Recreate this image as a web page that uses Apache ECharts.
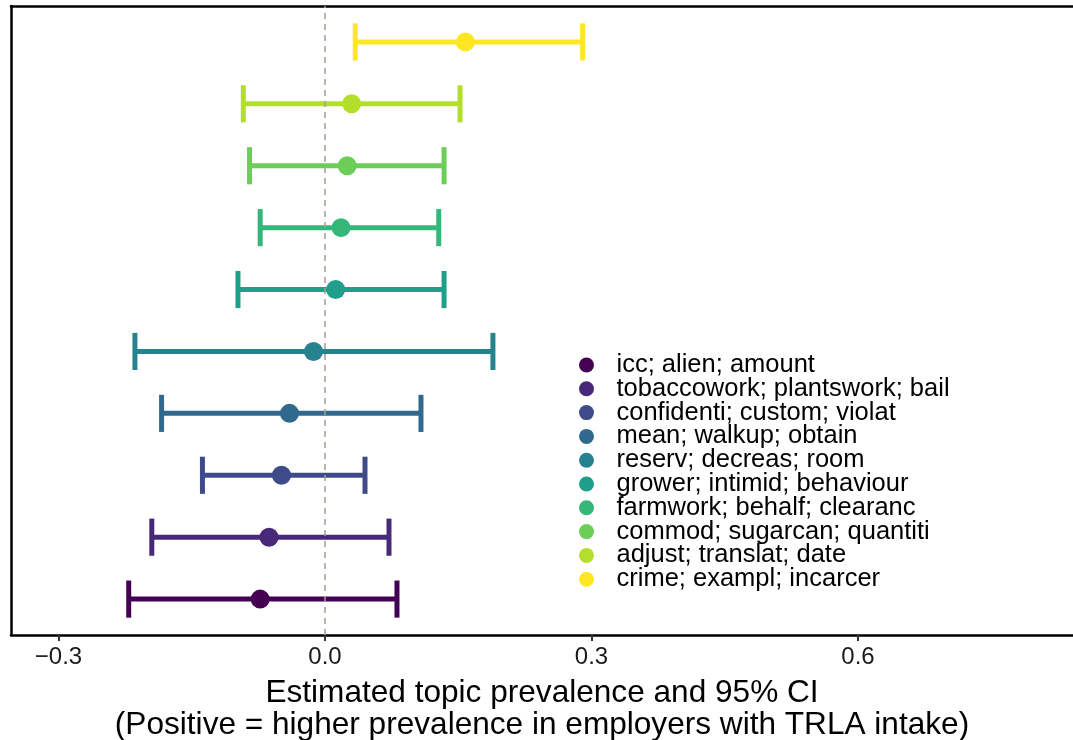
<!DOCTYPE html>
<html><head><meta charset="utf-8">
<script src="https://cdn.jsdelivr.net/npm/echarts@6/dist/echarts.min.js"></script>
<style>html,body{margin:0;padding:0;background:#fff}#c{width:1073px;height:740px}</style>
</head><body><div id="c"></div>
<script>
const topics = [
  'icc; alien; amount',
  'tobaccowork; plantswork; bail',
  'confidenti; custom; violat',
  'mean; walkup; obtain',
  'reserv; decreas; room',
  'grower; intimid; behaviour',
  'farmwork; behalf; clearanc',
  'commod; sugarcan; quantiti',
  'adjust; translat; date',
  'crime; exampl; incarcer'
];
const estimates = [-0.073, -0.063, -0.049, -0.040, -0.013, 0.012, 0.018, 0.025, 0.030, 0.158];
const lowerCI   = [-0.221, -0.195, -0.138, -0.184, -0.214, -0.098, -0.073, -0.085, -0.092, 0.034];
const upperCI   = [0.081, 0.072, 0.045, 0.108, 0.189, 0.134, 0.128, 0.134, 0.152, 0.290];
const colors = ['#440154','#482878','#3E4A89','#31688E','#26828E','#1F9E89','#35B779','#6DCD59','#B4DE2C','#FDE725'];
const tickValues = [-0.3, 0, 0.3, 0.6];

const FONT = '"Liberation Sans", Arial, Helvetica, sans-serif';
const xMin = -0.3535, xMax = 0.842;
const yMin = 0.42, yMax = 10.58;

const chart = echarts.init(document.getElementById('c'), null, {renderer: 'canvas'});

const errData = topics.map((t, i) => ({value: [i + 1, lowerCI[i], upperCI[i]]}));

const series = [{
  type: 'custom',
  name: 'ci',
  z: 2,
  silent: true,
  encode: {x: [1, 2], y: 0},
  data: errData,
  renderItem: function (params, api) {
    const y = api.value(0), lo = api.value(1), hi = api.value(2);
    const a = api.coord([lo, y]), b = api.coord([hi, y]);
    const half = api.size([0, 0.6])[1] / 2;
    const style = {stroke: colors[params.dataIndex], lineWidth: 5, fill: null};
    return {type: 'group', children: [
      {type: 'line', shape: {x1: a[0], y1: a[1], x2: b[0], y2: b[1]}, style: style},
      {type: 'line', shape: {x1: a[0], y1: a[1] - half, x2: a[0], y2: a[1] + half}, style: style},
      {type: 'line', shape: {x1: b[0], y1: b[1] - half, x2: b[0], y2: b[1] + half}, style: style}
    ]};
  }
}, {
  type: 'scatter',
  name: 'zero',
  z: 3,
  silent: true,
  symbolSize: 0,
  data: [[0, 5]],
  markLine: {
    silent: true,
    symbol: ['none', 'none'],
    label: {show: false},
    lineStyle: {type: [6, 5], color: '#A39E93', width: 1.5},
    data: [{xAxis: 0}]
  }
}];
topics.forEach((t, i) => {
  series.push({
    type: 'scatter',
    name: t,
    z: 4,
    symbol: 'circle',
    symbolSize: 19,
    itemStyle: {color: colors[i], opacity: 1},
    data: [[estimates[i], i + 1]]
  });
});

const axisLineStyle = {color: '#000', width: 2.5};

chart.setOption({
  animation: false,
  backgroundColor: '#fff',
  grid: {left: 11, right: 0, top: 6, bottom: 105, outerBoundsMode: 'none'},
  legend: {
    orient: 'vertical',
    left: 579,
    top: 352,
    padding: 0,
    itemGap: -2.2,
    itemWidth: 50,
    itemHeight: 15,
    icon: 'circle',
    selectedMode: false,
    data: topics,
    textStyle: {fontFamily: FONT, fontSize: 25.5, color: '#000'}
  },
  xAxis: [{
    type: 'value',
    position: 'bottom',
    min: xMin, max: xMax,
    axisLine: {show: true, onZero: false, lineStyle: axisLineStyle},
    axisTick: {show: true, customValues: tickValues, length: 6, lineStyle: {color: '#333', width: 2}},
    axisLabel: {
      customValues: tickValues,
      formatter: v => v.toFixed(1).replace('-', '\u2212'),
      fontSize: 24, color: '#1a1a1a', margin: 10, fontFamily: FONT
    },
    splitLine: {show: false},
    name: 'Estimated topic prevalence and 95% CI\n(Positive = higher prevalence in employers with TRLA intake)',
    nameLocation: 'middle',
    nameGap: 42,
    nameTextStyle: {fontSize: 31.6, lineHeight: 32, color: '#000', fontFamily: FONT}
  }, {
    type: 'value',
    position: 'top',
    min: xMin, max: xMax,
    axisLine: {show: true, onZero: false, lineStyle: axisLineStyle},
    axisTick: {show: false},
    axisLabel: {show: false},
    splitLine: {show: false}
  }],
  yAxis: {
    type: 'value',
    min: yMin, max: yMax,
    axisLine: {show: true, onZero: false, lineStyle: axisLineStyle},
    axisTick: {show: false},
    axisLabel: {show: false},
    splitLine: {show: false}
  },
  series: series
});
</script>
</body></html>
